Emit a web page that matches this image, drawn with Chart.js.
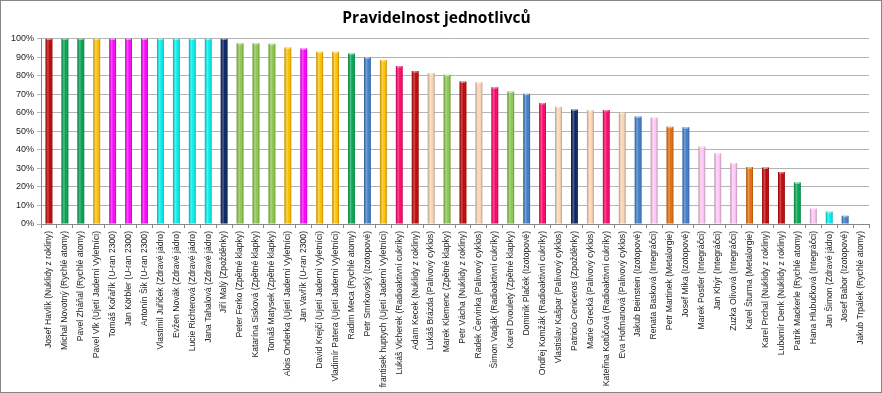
<!DOCTYPE html>
<html>
<head>
<meta charset="utf-8">
<script src="https://cdn.jsdelivr.net/npm/chart.js@4/dist/chart.umd.min.js"></script>
<style>
    html, body { margin: 0; padding: 0; background: #fff; }
    #wrap { width: 882px; height: 393px; position: relative; }
</style>
</head>
<body>
<div id="wrap"><canvas id="pravidelnostChart" width="882" height="393"></canvas></div>
<script>
// jmena soutezicich a jejich tymy
const names = [
    'Josef Havlík', 'Michal Novotný', 'Pavel Zháňal', 'Pavel Vlk', 'Tomáš Kořařík',
    'Jan Körbler', 'Antonín Šik', 'Vlastimil Juříček', 'Evžen Novák', 'Lucie Richterová',
    'Jana Tahalová', 'Jiří Malý', 'Peter Ferko', 'Katarína Sisková', 'Tomáš Matysek',
    'Alois Onderka', 'Jan Vavřík', 'David Krejčí', 'Vladimír Patera', 'Radim Meca',
    'Petr Smrkovský', 'frantisek huptych', 'Lukáš Vicherek', 'Adam Kecek', 'Lukáš Brázda',
    'Marek Klemenc', 'Petr Vácha', 'Radek Červinka', 'Šimon Vadják', 'Karel Dvouletý',
    'Dominik Plaček', 'Ondřej Komžák', 'Vlastislav Kašpar', 'Patricio Ceniceros', 'Marie Grecká',
    'Kateřina Kotůčová', 'Eva Hofmanová', 'Jakub Beinstein', 'Renata Basková', 'Petr Martinek',
    'Josef Mika', 'Marek Postler', 'Jan Khýr', 'Zuzka Olivová', 'Karel Šturma',
    'Karel Prchal', 'Lubomír Denk', 'Patrik Mackerle', 'Hana Hlubučková', 'Jan Šimon',
    'Josef Babor', 'Jakub Trpálek'
];
const teams = [
    'Nuklidy z rokliny', 'Rychlé atomy', 'Rychlé atomy', 'Ujetí Jaderní Vyletníci', 'U-ran 2300',
    'U-ran 2300', 'U-ran 2300', 'Zdravé jádro', 'Zdravé jádro', 'Zdravé jádro',
    'Zdravé jádro', 'Zpožděnky', 'Zpětné klapky', 'Zpětné klapky', 'Zpětné klapky',
    'Ujetí Jaderní Vyletníci', 'U-ran 2300', 'Ujetí Jaderní Vyletníci', 'Ujetí Jaderní Vyletníci', 'Rychlé atomy',
    'Izotopové', 'Ujetí Jaderní Vyletníci', 'Radioaktivní cukríky', 'Nuklidy z rokliny', 'Palivový cyklos',
    'Zpětné klapky', 'Nuklidy z rokliny', 'Palivový cyklos', 'Radioaktivní cukríky', 'Zpětné klapky',
    'Izotopové', 'Radioaktivní cukríky', 'Palivový cyklos', 'Zpožděnky', 'Palivový cyklos',
    'Radioaktivní cukríky', 'Palivový cyklos', 'Izotopové', 'Integráčci', 'Metalorgie',
    'Izotopové', 'Integráčci', 'Integráčci', 'Integráčci', 'Metalorgie',
    'Nuklidy z rokliny', 'Nuklidy z rokliny', 'Rychlé atomy', 'Integráčci', 'Zdravé jádro',
    'Izotopové', 'Rychlé atomy'
];
// pravidelnost v procentech
const values = [
    100, 100, 100, 100, 100, 100, 100, 100, 100, 100,
    100, 100, 97.5, 97.5, 97.2, 95.2, 94.7, 92.9, 92.9, 92,
    90, 88.5, 85.2, 82.5, 81.4, 80.5, 76.9, 76.5, 73.8, 71.4,
    70.3, 65.3, 63.3, 61.8, 61.4, 61.5, 60, 58, 57.4, 52.5,
    52.2, 41.8, 38.2, 32.9, 30.7, 30.5, 28, 22.4, 8.3, 6.7,
    4.4, 0
];
const teamNames = [
    'Nuklidy z rokliny', 'Rychlé atomy', 'Ujetí Jaderní Vyletníci', 'U-ran 2300',
    'Zdravé jádro', 'Zpožděnky', 'Zpětné klapky', 'Izotopové',
    'Radioaktivní cukríky', 'Palivový cyklos', 'Integráčci', 'Metalorgie'
];
const teamColors = [
    '#c00000', '#00a650', '#ffc000', '#ff00ff',
    '#00f0f0', '#002060', '#8cc84b', '#3d7cc9',
    '#ff0066', '#fcd5b5', '#ffc8f5', '#e46c0a'
];
const yTicks = [0, 10, 20, 30, 40, 50, 60, 70, 80, 90, 100];

let labels = names.map((n, i) => `${n} (${teams[i]})`);
let barColors = teams.map(t => teamColors[teamNames.indexOf(t)]);

// valcovy efekt + ramecek
const shading = {
    id: 'shading',
    afterDatasetsDraw(chart) {
        let ctx = chart.ctx;
        let meta = chart.getDatasetMeta(0);
        meta.data.forEach(bar => {
            let w = bar.width;
            let left = bar.x - w / 2;
            let top = Math.min(bar.y, bar.base);
            let h = Math.abs(bar.base - bar.y);
            if (h < 0.5) return;
            let g = ctx.createLinearGradient(left, 0, left + w, 0);
            g.addColorStop(0, 'rgba(0,0,0,0.25)');
            g.addColorStop(0.35, 'rgba(255,255,255,0.3)');
            g.addColorStop(0.6, 'rgba(255,255,255,0)');
            g.addColorStop(1, 'rgba(0,0,0,0.3)');
            ctx.save();
            ctx.fillStyle = g;
            ctx.fillRect(left, top, w, h);
            ctx.fillStyle = 'rgba(255,255,255,0.45)';
            ctx.fillRect(left + 1, top, w - 2, 1.5);
            ctx.restore();
        });
    },
    afterDraw(chart) {
        let ctx = chart.ctx;
        ctx.save();
        ctx.strokeStyle = '#868686';
        ctx.lineWidth = 1;
        ctx.strokeRect(0.5, 0.5, chart.width - 1, chart.height - 1);
        ctx.restore();
    }
};

let ctx = document.getElementById('pravidelnostChart').getContext('2d');
let chart = new Chart(ctx, {
    type: 'bar',
    data: {
        labels: labels,
        datasets: [{
            label: 'Pravidelnost',
            data: values,
            backgroundColor: barColors,
            borderWidth: 0,
            barPercentage: 0.86,
            categoryPercentage: 0.5
        }]
    },
    options: {
        responsive: false,
        animation: false,
        layout: { padding: { left: 4, right: 13, top: 0, bottom: 0 } },
        plugins: {
            legend: { display: false },
            tooltip: { enabled: false },
            title: {
                display: true,
                text: 'Pravidelnost jednotlivců',
                color: '#000',
                font: { family: "'Open Sans', 'Liberation Sans', sans-serif", size: 15.5, weight: 'bold' },
                padding: { top: 9, bottom: 11 }
            }
        },
        scales: {
            x: {
                grid: { display: true, drawOnChartArea: false, offset: true, tickLength: 4, color: '#888' },
                border: { color: '#888' },
                ticks: {
                    minRotation: 90,
                    maxRotation: 90,
                    autoSkip: false,
                    padding: 3,
                    color: '#222',
                    font: { family: "'Liberation Sans', sans-serif", size: 8.6 }
                },
                afterFit(scale) { scale.height = 169; }
            },
            y: {
                min: 0,
                max: 100,
                afterBuildTicks(scale) { scale.ticks = yTicks.map(v => ({ value: v })); },
                grid: { color: '#b4b4b4', tickLength: 4 },
                border: { color: '#888' },
                ticks: {
                    padding: 3,
                    color: '#222',
                    callback: v => v + '%',
                    font: { family: "'Liberation Sans', sans-serif", size: 9 }
                },
                afterFit(scale) { scale.width = 37; }
            }
        }
    },
    plugins: [shading]
});
</script>
</body>
</html>
